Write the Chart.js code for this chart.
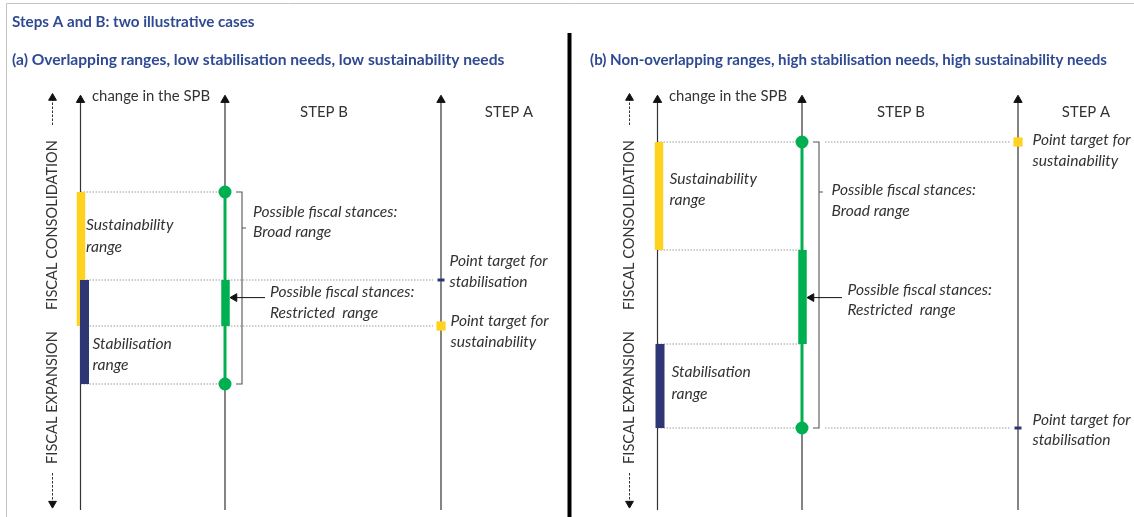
<!DOCTYPE html>
<html>
<head>
<meta charset="utf-8">
<script src="https://cdn.jsdelivr.net/npm/chart.js@4.4.1/dist/chart.umd.min.js"></script>
<style>
  html, body { margin: 0; padding: 0; background: #fff; }
</style>
</head>
<body>
<canvas id="fig" width="1134" height="517"></canvas>
<script>
// change in the SPB, schematic units
const panelTitles = [
  '(a) Overlapping ranges, low stabilisation needs, low sustainability needs',
  '(b) Non-overlapping ranges, high stabilisation needs, high sustainability needs'
];
const sustainabilityRange = [[-0.15, 3.2], [1.75, 4.45]];
const stabilisationRange = [[-1.6, 1.0], [-2.7, -0.6]];
const sustainabilityTarget = [-0.15, 4.45];
const stabilisationTarget = [1.0, -2.7];
const stepLabels = ['STEP B', 'STEP A'];

// layout (x in canvas px, y in SPB units)
const PANEL_X = [0, 577];
const COL = { dash: 52.5, spb: 80.5, stepB: 225, brace: 242, stepA: 441 };
const BAR_DX = [[0.5, 4], [1.5, 2.5]];       // yellow, navy offsets from the SPB axis
const GUIDE_START = [225, 248];
const AXIS_TOP = 5.5, AXIS_BOTTOM = -4.75;
const DASH_UP = [4.875, 5.55], DASH_DOWN = [-3.825, -4.59];
const ARROW_Y = 0.56;
const BRACE_NOTCH = [2.3, 3.2];

const YELLOW = '#FFD21F', NAVY = '#2E3675', GREEN = '#00B050', INK = '#333', BLUE = '#2F4A93';
const FONT = 'Lato, "Noto Sans", sans-serif';

// restricted range = overlap of the two ranges, or the gap between them
function restrictedRange(a, b) {
  const lo = Math.max(a[0], b[0]), hi = Math.min(a[1], b[1]);
  return lo <= hi ? [lo, hi] : [hi, lo];
}

const datasets = [];
function seg(points, style) {
  datasets.push(Object.assign({
    data: points, showLine: true, fill: false, tension: 0,
    pointRadius: 0, pointHoverRadius: 0, borderWidth: 1, borderColor: INK
  }, style));
}
const dotted = { borderColor: '#9a9a9a', borderDash: [1.5, 1.5], borderWidth: 1, order: 20 };
const arrowHead = { pointStyle: 'triangle', pointBackgroundColor: '#111', pointBorderColor: '#111', pointBorderWidth: 1 };

panelTitles.forEach((title, i) => {
  const ox = PANEL_X[i];
  const X = k => ox + COL[k];
  const sus = sustainabilityRange[i], stab = stabilisationRange[i];
  const broad = [Math.min(sus[0], stab[0]), Math.max(sus[1], stab[1])];
  const restricted = restrictedRange(sus, stab);

  // dotted guides
  [sus[0], sus[1], stab[0], stab[1]].forEach(v =>
    seg([{ x: X('spb'), y: v }, { x: X('stepB'), y: v }], dotted));
  [sustainabilityTarget[i], stabilisationTarget[i]].forEach(v =>
    seg([{ x: ox + GUIDE_START[i], y: v }, { x: X('stepA') - 8, y: v }], dotted));

  // vertical axes with arrow heads
  ['spb', 'stepB', 'stepA'].forEach(k =>
    seg([{ x: X(k), y: AXIS_BOTTOM }, { x: X(k), y: AXIS_TOP }],
      Object.assign({ borderColor: '#333', borderWidth: 1.2, pointRadius: [0, 4.8], order: 15 }, arrowHead)));

  // fiscal consolidation / expansion dashed arrows
  seg([{ x: X('dash'), y: DASH_UP[0] }, { x: X('dash'), y: DASH_UP[1] }],
    Object.assign({ borderDash: [2.5, 1.5], pointRadius: [0, 4.5], order: 15 }, arrowHead));
  seg([{ x: X('dash'), y: DASH_DOWN[0] }, { x: X('dash'), y: DASH_DOWN[1] }],
    Object.assign({ borderDash: [2.5, 1.5], pointRadius: [0, 4.5], pointRotation: 180, order: 15 }, arrowHead));

  // ranges on the SPB axis
  seg([{ x: X('spb') + BAR_DX[i][0], y: sus[0] }, { x: X('spb') + BAR_DX[i][0], y: sus[1] }],
    { borderColor: YELLOW, borderWidth: 8.5, borderCapStyle: 'butt', order: 6 });
  seg([{ x: X('spb') + BAR_DX[i][1], y: stab[0] }, { x: X('spb') + BAR_DX[i][1], y: stab[1] }],
    { borderColor: NAVY, borderWidth: 9, borderCapStyle: 'butt', order: 5 });

  // step B: broad and restricted ranges
  seg([{ x: X('stepB'), y: broad[0] }, { x: X('stepB'), y: broad[1] }],
    { borderColor: GREEN, borderWidth: 3, pointRadius: 5, pointBackgroundColor: GREEN, pointBorderColor: GREEN, order: 3 });
  seg([{ x: X('stepB') + 0.5, y: restricted[0] }, { x: X('stepB') + 0.5, y: restricted[1] }],
    { borderColor: GREEN, borderWidth: 8.5, borderCapStyle: 'butt', order: 2 });

  // brace around the broad range
  const bx = X('brace');
  seg([
    { x: bx - 6, y: broad[1] }, { x: bx, y: broad[1] }, { x: bx, y: BRACE_NOTCH[i] },
    { x: bx + 4, y: BRACE_NOTCH[i] }, { x: bx, y: BRACE_NOTCH[i] },
    { x: bx, y: broad[0] }, { x: bx - 6, y: broad[0] }
  ], { borderColor: '#555', borderWidth: 1.1, order: 4 });

  // arrow to the restricted range
  seg([{ x: ox + 265, y: ARROW_Y }, { x: X('stepB') + 9.5, y: ARROW_Y }],
    Object.assign({ borderColor: '#111', pointRadius: [0, 4.5], pointRotation: 270, order: 1 }, arrowHead));

  // step A point targets
  seg([{ x: X('stepA'), y: sustainabilityTarget[i] }],
    { showLine: false, pointStyle: 'rect', pointRadius: 6.5, pointBackgroundColor: YELLOW, pointBorderColor: YELLOW, pointBorderWidth: 0, order: 1 });
  seg([{ x: X('stepA'), y: stabilisationTarget[i] }],
    { showLine: false, pointStyle: 'line', pointRadius: 3.5, pointBorderColor: NAVY, pointBorderWidth: 3, order: 1 });
});

// annotation text, panel-relative x, pixel y
const notes = [
  [
    ['Sustainability', 86, 225], ['range', 86, 246.5],
    ['Stabilisation', 92.5, 343.5], ['range', 92.5, 364.5],
    ['Possible fiscal stances:', 253, 211.5], ['Broad range', 253, 232],
    ['Possible fiscal stances:', 270, 291.5], ['Restricted  range', 270, 312.5],
    ['Point target for', 449.5, 260.5], ['stabilisation', 449.5, 281.5],
    ['Point target for', 450.5, 320.5], ['sustainability', 450.5, 341.5]
  ],
  [
    ['Sustainability', 92.5, 179], ['range', 92.5, 200],
    ['Stabilisation', 94.5, 372], ['range', 94.5, 394],
    ['Possible fiscal stances:', 254.5, 190], ['Broad range', 254.5, 210.5],
    ['Possible fiscal stances:', 270.5, 290], ['Restricted  range', 270.5, 310],
    ['Point target for', 455.5, 140], ['sustainability', 455.5, 161],
    ['Point target for', 455.5, 420], ['stabilisation', 455.5, 440]
  ]
];

const textPlugin = {
  id: 'texts',
  beforeDatasetsDraw(chart) {
    const ctx = chart.ctx;
    ctx.save();
    // frame
    ctx.strokeStyle = '#c4c4c4';
    ctx.lineWidth = 1;
    ctx.beginPath();
    ctx.moveTo(6.5, 517); ctx.lineTo(6.5, 3.5); ctx.lineTo(1134, 3.5);
    ctx.stroke();
    // divider between the panels
    ctx.strokeStyle = '#000';
    ctx.lineWidth = 4;
    ctx.beginPath();
    ctx.moveTo(569.5, 33); ctx.lineTo(569.5, 517);
    ctx.stroke();
    ctx.restore();
  },
  afterDatasetsDraw(chart) {
    const ctx = chart.ctx;
    ctx.save();
    ctx.textBaseline = 'middle';
    ctx.fillStyle = BLUE;
    ctx.font = 'bold 15.2px ' + FONT;
    ctx.fillText('Steps A and B: two illustrative cases', 12, 22.5);
    panelTitles.forEach((t, i) => {
      ctx.font = 'bold ' + (i === 0 ? 15.6 : 15.1) + 'px ' + FONT;
      ctx.fillText(t, i === 0 ? 12 : 590, 60);
    });

    PANEL_X.forEach((ox, i) => {
      ctx.fillStyle = INK;
      ctx.font = '14.9px ' + FONT;
      ctx.textAlign = 'left';
      ctx.fillText('change in the SPB', ox + 92, 96);
      ctx.textAlign = 'center';
      ctx.fillText(stepLabels[0], ox + 324, 112.5);
      ctx.fillText(stepLabels[1], ox + 509, 112.5);

      // rotated side labels
      ctx.font = '14.6px ' + FONT;
      ctx.save();
      ctx.translate(ox + COL.dash, 225);
      ctx.rotate(-Math.PI / 2);
      ctx.fillText('FISCAL CONSOLIDATION', 0, 0);
      ctx.restore();
      ctx.save();
      ctx.translate(ox + COL.dash, 397.5);
      ctx.rotate(-Math.PI / 2);
      ctx.fillText('FISCAL EXPANSION', 0, 0);
      ctx.restore();

      ctx.textAlign = 'left';
      ctx.font = 'italic 15.6px ' + FONT;
      notes[i].forEach(([t, x, y]) => ctx.fillText(t, ox + x, y));
    });
    ctx.restore();
  }
};

new Chart(document.getElementById('fig'), {
  type: 'scatter',
  data: { datasets },
  options: {
    responsive: false,
    animation: false,
    events: [],
    layout: { padding: 0, autoPadding: false },
    plugins: { legend: { display: false }, tooltip: { enabled: false } },
    scales: {
      x: { type: 'linear', min: 0, max: 1134, display: false },
      y: { type: 'linear', min: -4.925, max: 8, display: false }
    }
  },
  plugins: [textPlugin]
});
</script>
</body>
</html>
